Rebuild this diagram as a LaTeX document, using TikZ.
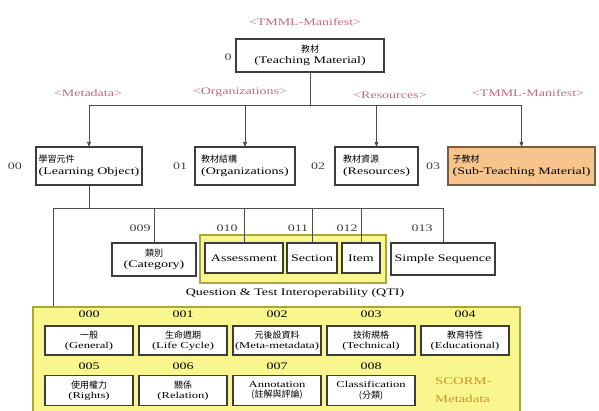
\documentclass[tikz,border=0pt]{standalone}
\usepackage{fontspec}
\setmainfont{Liberation Serif}[FakeStretch=1.4]
\newfontfamily\cjk{Noto Sans CJK TC}
\usepackage{tikz}
\usetikzlibrary{positioning, arrows}
\definecolor{tagpink}{RGB}{196,104,122}
\definecolor{qtiyellow}{RGB}{248,246,140}
\definecolor{qtiedge}{RGB}{168,168,58}
\definecolor{subfill}{RGB}{248,196,142}
\definecolor{subedge}{RGB}{122,92,64}
\definecolor{scormtxt}{RGB}{200,150,42}
\definecolor{boxedge}{RGB}{60,60,60}
\newcommand{\zh}[1]{{\cjk\fontsize{9}{10}\selectfont #1}}
\tikzset{
	>=stealth', % small filled arrow heads
	elem/.style={draw=boxedge, line width=1.4pt, fill=white, align=center, inner sep=1pt, font=\fontsize{10}{11.5}\selectfont}, % every element box
	scormbox/.style={elem, font=\fontsize{9}{10.5}\selectfont, minimum width=88pt, minimum height=29pt}, % boxes of the SCORM block
	tag/.style={text=tagpink, font=\fontsize{10}{12}\selectfont, inner sep=0pt}, % the <...> tags
	num/.style={font=\fontsize{10}{12}\selectfont, inner sep=0pt, text=black!75}, % element numbers
	link/.style={draw=black!70, line width=0.7pt}, % connectors
	group/.style={fill=qtiyellow, draw=qtiedge, line width=1.4pt}, % yellow groups
}
\begin{document}
\begin{tikzpicture}[x=1pt,y=-1pt]
		\useasboundingbox[fill=white] (0,0) rectangle (599,410);

		% groups first, so they stay behind
		\node[group, minimum width=186pt, minimum height=48pt] (qti) at (293,259) {};
		\node[group, minimum width=487pt, minimum height=105pt] (scorm) at (276.5,359.5) {};

		% top level
		\node[tag] (tmmltop) at (305,22) {<TMML-Manifest>};
		\node[elem, minimum width=148pt, minimum height=33pt] (tm) at (310,55.5) {\zh{教材}\\(Teaching Material)};
		\node[num] (n0) at (228,57) {0};

		\node[tag] (tmeta) at (88,93) {<Metadata>};
		\node[tag] (torgs) at (240,92) {<Organizations>};
		\node[tag] (tres) at (390,95) {<Resources>};
		\node[tag] (tmmlsub) at (528,93) {<TMML-Manifest>};

		\node[elem, align=left, minimum width=106pt, minimum height=38pt] (lo) at (89,166) {\zh{學習元件}\\(Learning Object)};
		\node[elem, align=left, minimum width=100pt, minimum height=38pt] (org) at (245,166) {\zh{教材結構}\\(Organizations)};
		\node[elem, align=left, minimum width=83pt, minimum height=38pt] (res) at (376.5,166) {\zh{教材資源}\\(Resources)};
		\node[elem, align=left, fill=subfill, draw=subedge, minimum width=147pt, minimum height=38pt] (sub) at (521.5,166) {\zh{子教材}\\(Sub-Teaching Material)};
		\node[num] (n00) at (15,166) {00};
		\node[num] (n01) at (180,166) {01};
		\node[num] (n02) at (318,166) {02};
		\node[num] (n03) at (433,166) {03};

		\draw[link] (tm.south) -- ++(0,33) coordinate (bus);
		\draw[link] (lo.north |- bus) -- (sub.north |- bus);
		\foreach \n in {lo,org,res,sub}
		{
			\draw[link,->] (\n.north |- bus) -- (\n.north);
		}

		% second level
		\node[elem, minimum width=84pt, minimum height=33pt] (cat) at (154,259.5) {\zh{類別}\\(Category)};
		\node[elem, minimum width=78pt, minimum height=30pt] (assess) at (244,258) {Assessment};
		\node[elem, minimum width=50pt, minimum height=30pt] (sect) at (312,258) {Section};
		\node[elem, minimum width=38pt, minimum height=30pt] (item) at (361,258) {Item};
		\node[elem, minimum width=104pt, minimum height=32pt] (simp) at (443,259) {Simple Sequence};
		\node[num] (n009) at (140,228) {009};
		\node[num] (n010) at (227,228) {010};
		\node[num] (n011) at (298,228) {011};
		\node[num] (n012) at (347,228) {012};
		\node[num] (n013) at (422,228) {013};
		\node[font=\fontsize{10}{12}\selectfont, inner sep=0pt] (qticap) at (295,293) {Question \& Test Interoperability (QTI)};

		\draw[link] (lo.south) -- (lo.south |- 0,208) coordinate (bus2);
		\coordinate (bus2w) at (53,208);
		\draw[link] (bus2w) -- (simp.north |- bus2);
		\draw[link] (bus2w) -- (bus2w |- scorm.north);
		\foreach \n in {cat,assess,sect,item,simp}
		{
			\draw[link] (\n.north |- bus2) -- (\n.north);
		}

		% SCORM metadata block
		\foreach \i/\x/\t in {0/89/{\zh{一般}\\(General)}, 1/183/{\zh{生命週期}\\(Life Cycle)}, 2/277/{\zh{元後設資料}\\(Meta-metadata)}, 3/371/{\zh{技術規格}\\(Technical)}, 4/465/{\zh{教育特性}\\(Educational)}}
		{
			\node[scormbox] (s00\i) at (\x,340.5) {\t};
			\node[num, text=black] (n00\i) at (\x,314) {00\i};
		}
		\foreach \i/\x/\t in {5/89/{\zh{使用權力}\\(Rights)}, 6/183/{\zh{關係}\\(Relation)}, 7/277/{Annotation\\\zh{(註解與評論)}}, 8/371/{Classification\\\zh{(分類)}}}
		{
			\node[scormbox, minimum height=30pt] (s00\i) at (\x,390.5) {\t};
			\node[num, text=black] (n00\i) at (\x,366) {00\i};
		}
		\node[text=scormtxt, align=left, anchor=north west, inner sep=0pt, font=\fontsize{10.5}{18}\selectfont] (scormtag) at (435,377) {SCORM-\\Metadata};

	\end{tikzpicture}
\end{document}
